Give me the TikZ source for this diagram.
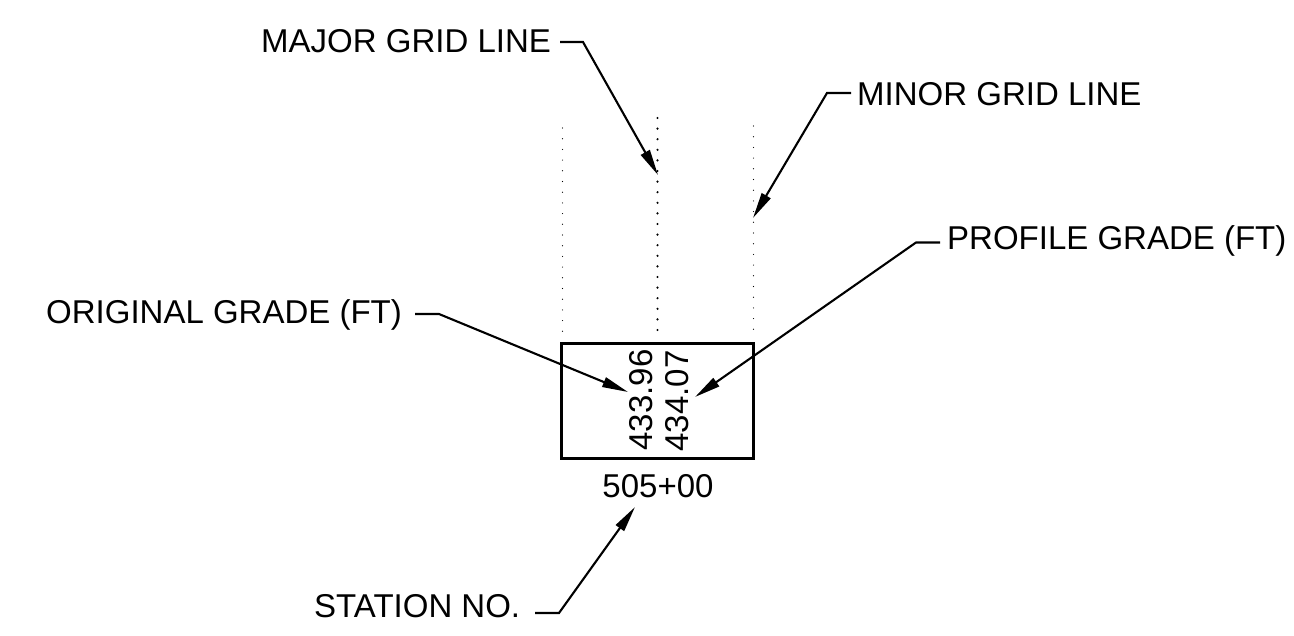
\documentclass[tikz,border=0pt]{standalone}
\usepackage{fontspec}
\setmainfont{Liberation Sans}
\usetikzlibrary{arrows.meta}
\begin{document}
\begin{tikzpicture}[x=1pt,y=-1pt,
  lbl/.style={inner sep=0pt, font=\fontsize{33}{40}\selectfont},
  leader/.style={line width=2.1pt, -{Triangle[length=26pt,width=10pt]}},
  majordots/.style={line width=2.4pt, line cap=round, dash pattern=on 0pt off 10.6pt},
  minordots/.style={line width=1.2pt, line cap=round, dash pattern=on 0pt off 10.7pt},
  boxstyle/.style={draw, line width=3pt, minimum width=192pt, minimum height=115pt, inner sep=0pt}]
\useasboundingbox (0,0) rectangle (1294,635);

% grid lines
\draw[majordots] (657.5,118) -- (657.5,331);
\draw[minordots] (562.5,128) -- (562.5,333);
\draw[minordots] (753.5,126) -- (753.5,330);

% station box
\node[boxstyle] (box) at (657,400.5) {};
\node[lbl, rotate=90, anchor=base] (orig) at (652,400) {433.96};
\node[lbl, rotate=90, anchor=base] (prof) at (688,401) {434.07};
\node[lbl, anchor=base] (sta) at (658,497) {505+00};

% labels
\node[lbl, anchor=base west] (majl) at (261,52) {MAJOR GRID LINE};
\node[lbl, anchor=base west] (minl) at (857,105) {MINOR GRID LINE};
\node[lbl, anchor=base west] (profl) at (947,249) {PROFILE GRADE (FT)};
\node[lbl, anchor=base west] (origl) at (46,323) {ORIGINAL GRADE (FT)};
\node[lbl, anchor=base west] (stal) at (314,617) {STATION NO.};

% arrow tips
\coordinate (majtip) at (658,175);
\coordinate (mintip) at (753,218);
\coordinate (proftip) at (695,397);
\coordinate (origtip) at (628,392);
\coordinate (statip) at (635,507);

% leaders
\draw[leader] (560,42) -- (583,42) -- (majtip);
\draw[leader] (851,93) -- (827,93) -- (mintip);
\draw[leader] (940,242.5) -- (916,242.5) -- (proftip);
\draw[leader] (415,314) -- (439,314) -- (origtip);
\draw[leader] (535,613) -- (559,613) -- (statip);
\end{tikzpicture}
\end{document}
